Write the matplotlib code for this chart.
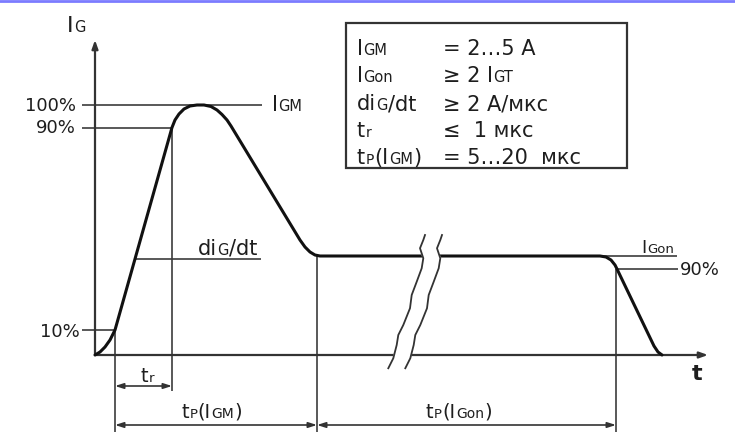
import matplotlib
matplotlib.use("Agg")
import matplotlib.pyplot as plt
from matplotlib.patches import Rectangle
from matplotlib.lines import Line2D

plt.rcParams['font.family'] = ['DejaVu Sans']

# ---------------- data (time in arbitrary units, current in % of I_GM) -------------
pulse_t = [0, 5, 10, 15, 20, 77, 80, 84, 89, 95, 102, 109, 116, 122, 127, 132, 136,
           205, 210, 215, 220, 225, 505, 511, 516, 520, 522, 559, 563, 567]
pulse_i = [0, 1.2, 3.2, 6, 10, 91, 94, 96.4, 98.4, 99.6, 100, 100, 99.4, 98, 96.2, 94, 91.6,
           46, 43.2, 41.2, 40, 39.6, 39.6, 39.2, 38, 36, 34.4, 3.6, 1.2, 0]

level_peak = 100      # I_GM
level_hi = 91         # 90 % point on the rise
level_lo = 10         # 10 % point on the rise
level_hold = 39.6     # I_Gon
level_fall = 34.4     # 90 % of I_Gon on the fall
level_slope = 38.4    # dIG/dt marker line

t_10 = 20
t_90 = 77
t_hold = 222
t_fall = 521

# break marker (left wavy line), right line is offset
break_t = [330, 328.3, 325, 328.3, 326.7, 321.7, 316.7, 315, 308.3, 303.3, 301.7, 298.3, 293.3]
break_i = [48, 46, 42.7, 38.7, 34.7, 29.3, 24, 18.7, 12, 8, 4, -1.3, -5.3]
break_gap = 17

param_names = [[("I", 15), ("GM", 10.5)],
               [("I", 15), ("Gon", 10.5)],
               [("di", 15), ("G", 10.5), ("/dt", 15)],
               [("t", 15), ("r", 10)],
               [("t", 15), ("P", 10), ("(I", 15), ("GM", 10.5), (")", 15)]]
param_values = [[("= 2…5 A", 15)],
                [("≥ 2 I", 15), ("GT", 10.5)],
                [("≥ 2 A/мкс", 15)],
                [("≤  1 мкс", 15)],
                [("= 5…20  мкс", 15)]]

TXT = '#1e1e1e'
LN = '#3c3c3c'

fig = plt.figure(figsize=(7.35, 4.32), dpi=100)
ax = fig.add_axes([0, 0, 1, 1])
ax.set_xlim(-95, 640)
ax.set_ylim(-30.8, 142)
ax.axis('off')
renderer = fig.canvas.get_renderer()


def P(px, py):
    return (px - 95, (355 - py) / 2.5)


def rich(px, py, pieces, ha='left', weight='normal'):
    arts, widths = [], []
    for s, size in pieces:
        t = ax.text(0, 0, s, fontsize=size, va='baseline', ha='left', color=TXT,
                    fontweight=weight, zorder=10)
        widths.append(t.get_window_extent(renderer).width + 0.5)
        arts.append(t)
    total = sum(widths)
    x = px - total if ha == 'right' else (px - total / 2 if ha == 'center' else px)
    for t, w in zip(arts, widths):
        t.set_position(P(x, py))
        x += w


bottom = P(0, 432)[1]
thin = dict(color=LN, lw=1.2, solid_capstyle='butt')

# top border line
fig.add_artist(Line2D([0, 1], [1 - 1.2 / 432, 1 - 1.2 / 432], color='#7b7bff', lw=2.0))

# axes
ax.annotate('', xy=(0, P(0, 40)[1]), xytext=(0, 0),
            arrowprops=dict(arrowstyle='-|>,head_length=0.5,head_width=0.18', color='#333333',
                            lw=1.6, shrinkA=0, shrinkB=0))
ax.annotate('', xy=(P(708, 0)[0], 0), xytext=(0, 0),
            arrowprops=dict(arrowstyle='-|>,head_length=0.5,head_width=0.18', color='#333333',
                            lw=1.6, shrinkA=0, shrinkB=0))

# level lines
ax.plot([P(82, 0)[0], P(262, 0)[0]], [level_peak] * 2, **thin)
ax.plot([P(82, 0)[0], t_90], [level_hi] * 2, **thin)
ax.plot([P(82, 0)[0], t_10], [level_lo] * 2, **thin)
ax.plot([P(135, 0)[0], P(261, 0)[0]], [level_slope] * 2, **thin)
ax.plot([t_hold, P(677, 0)[0]], [level_hold] * 2, **thin)
ax.plot([t_fall, P(678, 0)[0]], [level_fall] * 2, **thin)

# vertical markers
ax.plot([t_10, t_10], [level_lo, bottom], **thin)
ax.plot([t_90, t_90], [level_hi, P(0, 391)[1]], **thin)
ax.plot([t_hold, t_hold], [level_hold, bottom], **thin)
ax.plot([t_fall, t_fall], [level_fall, bottom], **thin)

# dimension arrows
arr = dict(arrowstyle='<|-|>,head_length=0.5,head_width=0.16', color='#333333', lw=1.2,
           shrinkA=0, shrinkB=0)
y_tr = P(0, 386)[1]
y_tp = P(0, 425)[1]
ax.annotate('', xy=(t_90, y_tr), xytext=(t_10, y_tr), arrowprops=arr)
ax.annotate('', xy=(t_hold, y_tp), xytext=(t_10, y_tp), arrowprops=arr)
ax.annotate('', xy=(t_fall, y_tp), xytext=(t_hold, y_tp), arrowprops=arr)

# pulse curve
ax.plot(pulse_t, pulse_i, color='#111111', lw=2.2, solid_joinstyle='round',
        solid_capstyle='round', zorder=5)

# break marker
right_t = [v + break_gap for v in break_t]
ax.fill(list(break_t) + right_t[::-1], list(break_i) + break_i[::-1], color='white', zorder=6)
ax.plot(break_t, break_i, color='#333333', lw=1.3, zorder=7)
ax.plot(right_t, break_i, color='#333333', lw=1.3, zorder=7)

# parameter box
x0, y0 = P(346, 168)
x1, y1 = P(627, 23)
ax.add_patch(Rectangle((x0, y0), x1 - x0, y1 - y0, fill=False, ec='#333333', lw=1.6, zorder=8))
row_base = [55, 82, 110, 137, 164]
for yb, name, val in zip(row_base, param_names, param_values):
    rich(357, yb, name)
    rich(443, yb, val)

# labels
rich(67, 32, [("I", 16), ("G", 10.5)])
rich(76, 111, [("100%", 13)], ha='right')
rich(76, 133, [("90%", 13)], ha='right')
rich(80, 337, [("10%", 13)], ha='right')
rich(272, 111, [("I", 15), ("GM", 10.5)])
rich(198, 255, [("di", 15), ("G", 10.5), ("/dt", 15)])
rich(658, 253, [("I", 13), ("Gon", 9.5)], ha='center')
rich(680, 275, [("90%", 13)])
rich(148, 382, [("t", 14), ("r", 9.5)], ha='center')
rich(212, 418, [("t", 14), ("P", 9.5), ("(I", 14), ("GM", 10), (")", 14)], ha='center')
rich(459, 418, [("t", 14), ("P", 9.5), ("(I", 14), ("Gon", 10), (")", 14)], ha='center')
rich(697, 380, [("t", 16)], ha='center', weight='bold')

fig.savefig('out.png', dpi=100, facecolor='white')
